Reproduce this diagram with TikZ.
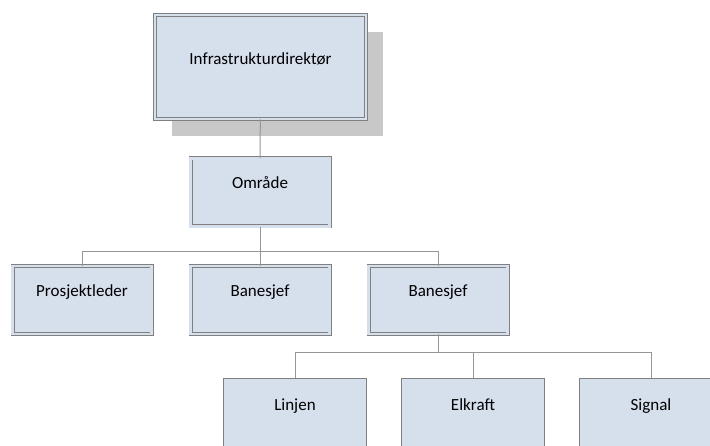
\documentclass[tikz,border=0pt]{standalone}
\usepackage{fontspec}
\setmainfont{Carlito}
\usepackage{xcolor}
\usetikzlibrary{positioning,shadows,calc}

\definecolor{boxfill}{RGB}{214,223,236}
\definecolor{boxline}{RGB}{128,128,128}
\definecolor{linkline}{RGB}{150,150,150}
\definecolor{shadowgray}{RGB}{200,200,200}

\tikzset{
	unit/.style={draw=boxline,fill=boxfill,double=boxfill,double distance=2.6pt,line width=0.7pt,
		minimum width=139pt,minimum height=68pt,inner sep=0pt},
	team/.style={draw=boxline,fill=boxfill,line width=1pt,
		minimum width=143pt,minimum height=72pt,inner sep=0pt},
	lab/.style={font=\fontsize{17}{20}\selectfont,anchor=base},
	link/.style={draw=linkline,line width=1pt}
}

\begin{document}
\begin{tikzpicture}[x=1pt,y=-1pt]
	\clip (0,0) rectangle (710,446);
	\fill[white] (0,0) rectangle (710,446);
	% top
	\node[unit,minimum width=211pt,minimum height=104pt,
		drop shadow={shadow xshift=17pt,shadow yshift=-17pt,fill=shadowgray,opacity=1},
		label={[lab,yshift=-50pt]north:Infrastrukturdirekt\o r}] (dir) at (260.5,67) {};
	\node[unit,label={[lab,yshift=-30.5pt]north:Område}] (omr) at (260,192.5) {};
	% second level
	\node[unit,label={[lab,yshift=-31pt]north:Prosjektleder}] (pl) at (82,300) {};
	\node[unit,label={[lab,yshift=-31pt]north:Banesjef}] (bs1) at (260,300) {};
	\node[unit,label={[lab,yshift=-31pt]north:Banesjef}] (bs2) at (438,300) {};
	% third level
	\node[team,label={[lab,yshift=-32pt]north:Linjen}] (lin) at (295,415) {};
	\node[team,label={[lab,yshift=-32pt]north:Elkraft}] (elk) at (473,415) {};
	\node[team,label={[lab,yshift=-32pt]north:Signal}] (sig) at (651,415) {};
	% connectors
	\coordinate (bar1) at (260,252);
	\coordinate (bar2) at (438,353);
	\draw[link] (dir) -- (omr);
	\draw[link] (omr) -- (bar1) -| (pl);
	\draw[link] (bar1) -- (bs1);
	\draw[link] (bar1) -| (bs2);
	\draw[link] (bs2) -- (bar2) -| (lin);
	\draw[link] (bar2) -| (elk);
	\draw[link] (bar2) -| (sig);
\end{tikzpicture}
\end{document}
